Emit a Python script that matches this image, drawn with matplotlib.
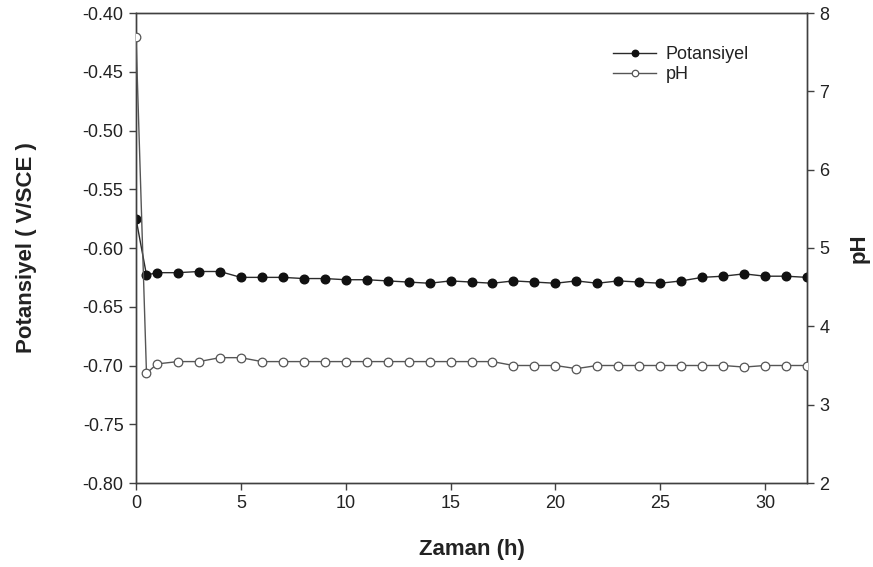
import matplotlib
matplotlib.use("Agg")
import matplotlib.pyplot as plt

plt.rcParams["font.family"] = ["Liberation Sans", "DejaVu Sans"]

# time (h)
zaman = [0, 0.5, 1, 2, 3, 4, 5, 6, 7, 8, 9, 10, 11, 12, 13, 14, 15, 16,
         17, 18, 19, 20, 21, 22, 23, 24, 25, 26, 27, 28, 29, 30, 31, 32]

# potential (V/SCE)
potansiyel = [-0.575, -0.623, -0.621, -0.621, -0.620, -0.620, -0.625, -0.625,
              -0.625, -0.626, -0.626, -0.627, -0.627, -0.628, -0.629, -0.630,
              -0.628, -0.629, -0.630, -0.628, -0.629, -0.630, -0.628, -0.630,
              -0.628, -0.629, -0.630, -0.628, -0.625, -0.624, -0.622, -0.624,
              -0.624, -0.625]

ph = [7.70, 3.40, 3.52, 3.55, 3.55, 3.60, 3.60, 3.55, 3.55, 3.55, 3.55, 3.55,
      3.55, 3.55, 3.55, 3.55, 3.55, 3.55, 3.55, 3.50, 3.50, 3.50, 3.46, 3.50,
      3.50, 3.50, 3.50, 3.50, 3.50, 3.50, 3.48, 3.50, 3.50, 3.50]

SPINE = "#404040"
TXT = "#222222"

fig = plt.figure(figsize=(8.73, 5.67), dpi=100)
ax = fig.add_axes([136 / 873, 1 - 483 / 567, (807 - 136) / 873, (483 - 13) / 567])
ax2 = ax.twinx()

l1, = ax.plot(zaman, potansiyel, color="#2a2a2a", lw=1.0, marker="o", ms=6.2,
              mfc="#111111", mec="#111111", label="Potansiyel", zorder=3)
l2, = ax2.plot(zaman, ph, color="#555555", lw=1.0, marker="o", ms=6.2,
               mfc="white", mec="#555555", mew=0.9, label="pH", zorder=3)

ax.set_xlim(0, 32)
ax.set_ylim(-0.80, -0.40)
ax2.set_ylim(2, 8)
ax.set_xticks(range(0, 31, 5))
ax.set_yticks([-0.80 + 0.05 * i for i in range(9)])
ax.set_yticklabels([f"{-0.80 + 0.05 * i:.2f}" for i in range(9)])
ax2.set_yticks(range(2, 9))

for a in (ax, ax2):
    for s in a.spines.values():
        s.set_color(SPINE)
        s.set_linewidth(1.0)
    a.tick_params(direction="out", length=5, width=1.0, color=SPINE,
                  labelsize=13, labelcolor=TXT, pad=4)

ax.set_xlabel("Zaman (h)", fontsize=16, fontweight="bold", color=TXT, labelpad=19)
ax.set_ylabel("Potansiyel ( V/SCE )", fontsize=16, fontweight="bold", color=TXT, labelpad=33)
ax2.set_ylabel("pH", fontsize=16, fontweight="bold", color=TXT, labelpad=14)

leg = ax2.legend(handles=[l1, l2], loc="upper left", bbox_to_anchor=(0.692, 0.957),
                 frameon=False, fontsize=13, labelspacing=0.2, handlelength=2.4,
                 handletextpad=0.5, markerscale=0.75, borderpad=0.2)
for t in leg.get_texts():
    t.set_color(TXT)

fig.savefig("out.png", dpi=100)
